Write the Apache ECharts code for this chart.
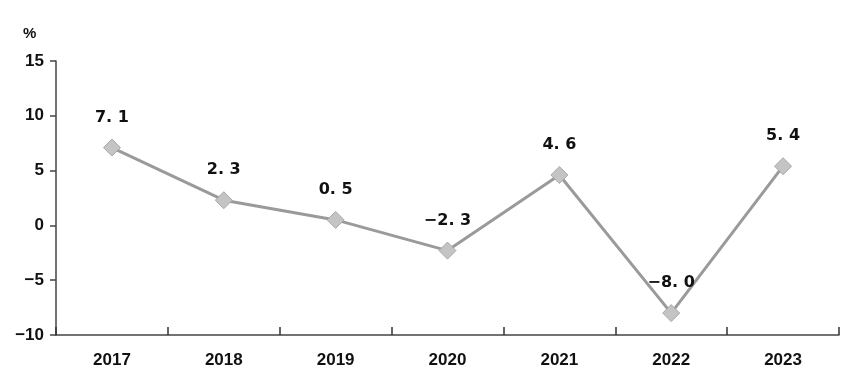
<!DOCTYPE html>
<html><head><meta charset="utf-8">
<script src="https://cdn.jsdelivr.net/npm/echarts@6/dist/echarts.min.js"></script>
<style>html,body{margin:0;padding:0;background:#fff}#c{width:850px;height:387px}</style>
</head><body><div id="c"></div>
<script>
const years = ['2017','2018','2019','2020','2021','2022','2023'];
const growth = [7.1, 2.3, 0.5, -2.3, 4.6, -8.0, 5.4];
const yTicks = [-10, -5, 0, 5, 10, 15];

const fmt = v => (v < 0 ? '\u2212' : '') + Math.abs(v).toFixed(1).replace('.', '. ');
const chart = echarts.init(document.getElementById('c'));
chart.setOption({
  animation: false,
  backgroundColor: '#fff',
  grid: {left: 56, right: 11, top: 61, bottom: 52},
  graphic: [{type: 'text', left: 23, top: 26, style: {text: '%', font: 'bold 15px "Liberation Sans", Arial', fill: '#111'}}],
  xAxis: {
    type: 'category', data: years, boundaryGap: true,
    axisLine: {show: true, onZero: false, lineStyle: {color: '#444', width: 1.5}},
    axisTick: {show: true, interval: 0, inside: true, length: 8, lineStyle: {color: '#333', width: 1.5}},
    axisLabel: {color: '#111', fontSize: 17, fontWeight: 'bold', fontFamily: '"Liberation Sans", Arial', margin: 17}
  },
  yAxis: {
    type: 'value', min: yTicks[0], max: yTicks[yTicks.length - 1], interval: 5,
    axisLine: {show: true, lineStyle: {color: '#444', width: 1.5}},
    axisTick: {show: true, length: 6, lineStyle: {color: '#444', width: 1.5}},
    splitLine: {show: false},
    axisLabel: {color: '#111', fontSize: 17, fontWeight: 'bold', fontFamily: '"Liberation Sans", Arial', margin: 12,
      formatter: v => (v < 0 ? '\u2212' + Math.abs(v) : String(v))}
  },
  series: [{
    type: 'line', data: growth,
    symbol: 'diamond', symbolSize: 17,
    lineStyle: {color: '#9a9a9a', width: 3},
    itemStyle: {color: '#c4c4c4', borderColor: '#a8a8a8', borderWidth: 1},
    label: {show: true, position: 'top', distance: 13, color: '#111', fontSize: 16, fontWeight: 'bold',
      fontFamily: '"DejaVu Sans", "Liberation Sans", Arial', formatter: p => fmt(p.value)}
  }]
});
</script></body></html>
